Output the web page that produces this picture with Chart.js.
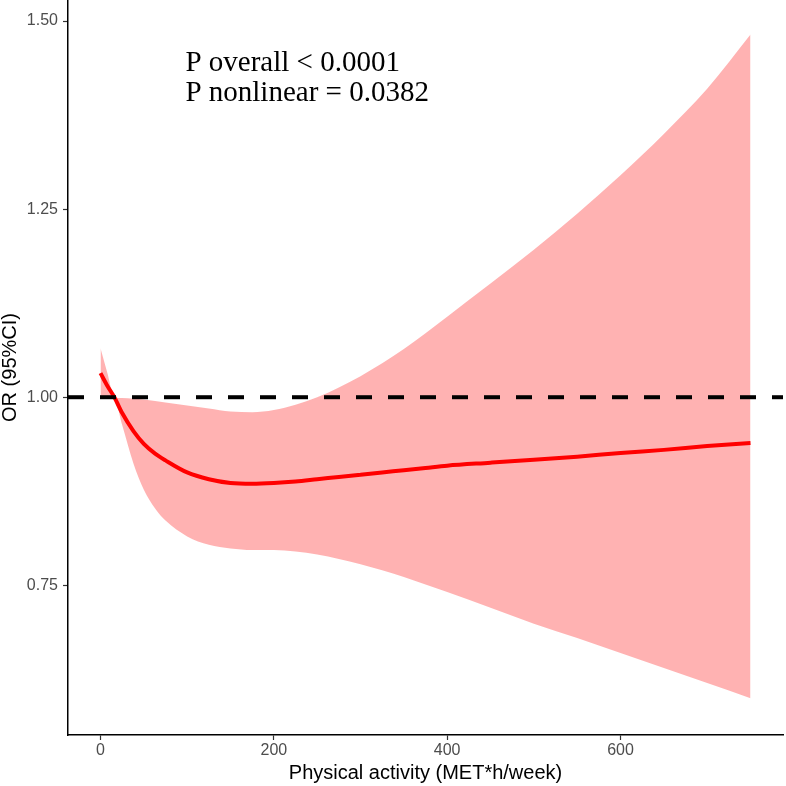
<!DOCTYPE html>
<html lang="en">
<head>
  <meta charset="UTF-8">
  <title>OR vs physical activity</title>
  <script src="https://cdn.jsdelivr.net/npm/chart.js"></script>
  <style>
    html, body { margin: 0; padding: 0; background: #fff; }
    #c { display: block; }
  </style>
</head>
<body>
<canvas id="c" width="786" height="786"></canvas>
<script>
  // physical activity (MET*h/week)
  const activity = [0, 8, 16, 25, 38, 50, 63, 75, 100, 125, 150, 175, 200, 225, 250, 275, 300, 325, 350, 375, 400, 450, 500, 550, 600, 650, 700, 750];
  // fitted OR
  const orFit   = [1.032, 1.015, 1.000, 0.979, 0.955, 0.938, 0.925, 0.916, 0.900, 0.891, 0.886, 0.885, 0.886, 0.888, 0.891, 0.894, 0.897, 0.900, 0.903, 0.906, 0.909, 0.913, 0.917, 0.921, 0.926, 0.930, 0.935, 0.939];
  // 95% CI
  const ciUpper = [1.065, 1.032, 1.000, 0.999, 0.998, 0.997, 0.995, 0.993, 0.989, 0.985, 0.981, 0.980, 0.983, 0.990, 1.000, 1.013, 1.028, 1.045, 1.064, 1.085, 1.107, 1.151, 1.196, 1.244, 1.295, 1.350, 1.410, 1.482];
  const ciLower = [0.999, 0.999, 0.998, 0.963, 0.912, 0.877, 0.852, 0.836, 0.815, 0.804, 0.799, 0.797, 0.797, 0.795, 0.791, 0.785, 0.778, 0.770, 0.761, 0.751, 0.741, 0.720, 0.699, 0.680, 0.660, 0.640, 0.620, 0.600];

  const xTicks = [0, 200, 400, 600];
  const yTicks = [0.75, 1.00, 1.25, 1.50];
  const refOR = 1;
  const xRange = [-37.5, 787.5];
  const yRange = [0.551, 1.528];

  const pText = ['P overall < 0.0001', 'P nonlinear = 0.0382'];

  const pts = ys => activity.map((x, i) => ({ x: x, y: ys[i] }));

  const pLabel = {
    id: 'pLabel',
    afterDatasetsDraw(chart) {
      const ctx = chart.ctx;
      const x = chart.scales.x.getPixelForValue(98);
      const y0 = chart.scales.y.getPixelForValue(1.433);
      ctx.save();
      ctx.fillStyle = '#000';
      ctx.font = '29px "Liberation Serif", "Times New Roman", serif';
      ctx.textBaseline = 'alphabetic';
      ctx.textAlign = 'left';
      pText.forEach((t, i) => ctx.fillText(t, x, y0 + i * 30));
      ctx.restore();
    }
  };

  const axisBase = {
    border: { display: true, color: '#000', width: 1.5 },
    grid: { display: true, drawOnChartArea: false, drawTicks: true, tickLength: 5, tickColor: '#333', tickWidth: 1.2 }
  };

  new Chart(document.getElementById('c'), {
    type: 'line',
    data: {
      datasets: [
        { data: [{ x: xRange[0], y: refOR }, { x: xRange[1], y: refOR }],
          borderColor: '#000', borderWidth: 4, borderDash: [16, 16], pointRadius: 0, fill: false, order: 0 },
        { data: pts(orFit), borderColor: '#ff0000', borderWidth: 4, pointRadius: 0,
          cubicInterpolationMode: 'monotone', fill: false, order: 1 },
        { data: pts(ciUpper), borderWidth: 0, borderColor: 'rgba(0,0,0,0)', pointRadius: 0,
          cubicInterpolationMode: 'monotone', backgroundColor: 'rgba(255,0,0,0.3)', fill: '+1', order: 2 },
        { data: pts(ciLower), borderWidth: 0, borderColor: 'rgba(0,0,0,0)', pointRadius: 0,
          cubicInterpolationMode: 'monotone', fill: false, order: 3 }
      ]
    },
    options: {
      responsive: false,
      animation: false,
      layout: { padding: { top: 0, right: 3, left: 0, bottom: 0 } },
      plugins: { legend: { display: false }, tooltip: { enabled: false } },
      scales: {
        x: Object.assign({}, axisBase, {
          type: 'linear', min: xRange[0], max: xRange[1],
          afterBuildTicks: s => { s.ticks = xTicks.map(v => ({ value: v })); },
          afterFit: s => { s.height = 51; s.paddingLeft = 0; s.paddingRight = 0; },
          ticks: { color: '#4d4d4d', font: { family: '"Liberation Sans", Arial, sans-serif', size: 16 }, padding: 1, maxRotation: 0 },
          title: { display: true, text: 'Physical activity (MET*h/week)', color: '#000',
                   font: { family: '"Liberation Sans", Arial, sans-serif', size: 20 }, padding: { top: 0, bottom: 1 } }
        }),
        y: Object.assign({}, axisBase, {
          type: 'linear', min: yRange[0], max: yRange[1],
          afterBuildTicks: s => { s.ticks = yTicks.map(v => ({ value: v })); },
          afterFit: s => { s.width = 68; s.paddingTop = 0; s.paddingBottom = 0; },
          ticks: { color: '#4d4d4d', font: { family: '"Liberation Sans", Arial, sans-serif', size: 16 }, padding: 5,
                   callback: v => Number(v).toFixed(2) },
          title: { display: true, text: 'OR (95%CI)', color: '#000',
                   font: { family: '"Liberation Sans", Arial, sans-serif', size: 20, lineHeight: 1 }, padding: 0 }
        })
      }
    },
    plugins: [pLabel]
  });
</script>
</body>
</html>
